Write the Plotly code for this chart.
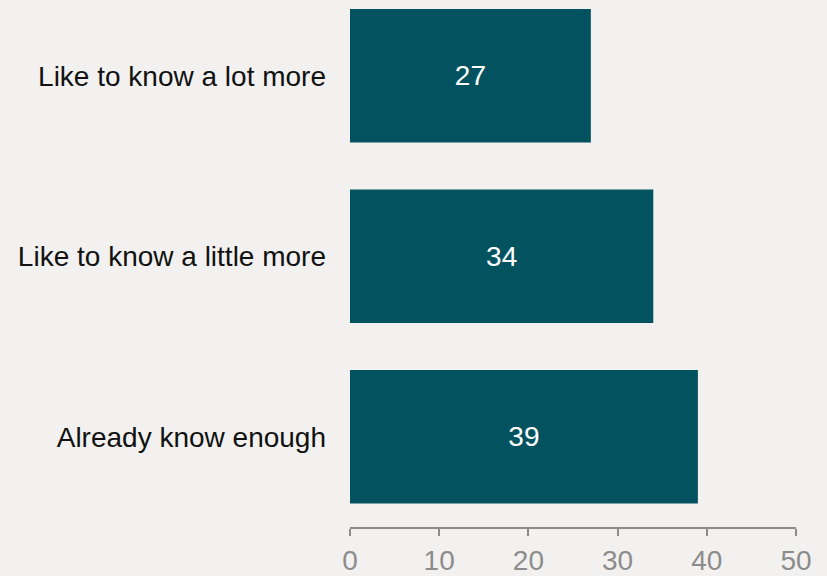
import plotly.graph_objects as go

# Survey responses: how much people want to know (percent)
categories = ["Already know enough", "Like to know a little more", "Like to know a lot more"]
values = [39, 34, 27]
tick_values = [0, 10, 20, 30, 40, 50]

BG = "#f2f1ef"
BAR = "#02535f"
AXIS = "#8c8c8c"
FONT = "Liberation Sans, Arial, sans-serif"

fig = go.Figure(
    go.Bar(
        x=values,
        y=categories,
        orientation="h",
        marker=dict(color=BAR, line=dict(width=0)),
        text=[str(v) for v in values],
        textposition="inside",
        insidetextanchor="middle",
        textfont=dict(family=FONT, size=28, color="white"),
        hoverinfo="skip",
    )
)

fig.update_layout(
    width=827,
    height=576,
    paper_bgcolor=BG,
    plot_bgcolor=BG,
    margin=dict(l=350, r=31, t=0, b=47),
    bargap=0.26,
    showlegend=False,
    font=dict(family=FONT),
    xaxis=dict(
        range=[0, 50],
        tickvals=tick_values,
        showgrid=False,
        zeroline=False,
        showline=True,
        linecolor=AXIS,
        linewidth=2,
        ticks="outside",
        ticklen=7,
        tickwidth=2,
        tickcolor=AXIS,
        tickfont=dict(family=FONT, size=28, color=AXIS),
        fixedrange=True,
    ),
    yaxis=dict(
        range=[-0.5, 2.42],
        showgrid=False,
        zeroline=False,
        showline=False,
        ticks="",
        ticklabelstandoff=23,
        tickfont=dict(family=FONT, size=28, color="#111111"),
        fixedrange=True,
    ),
)

fig.write_html("out.html")
